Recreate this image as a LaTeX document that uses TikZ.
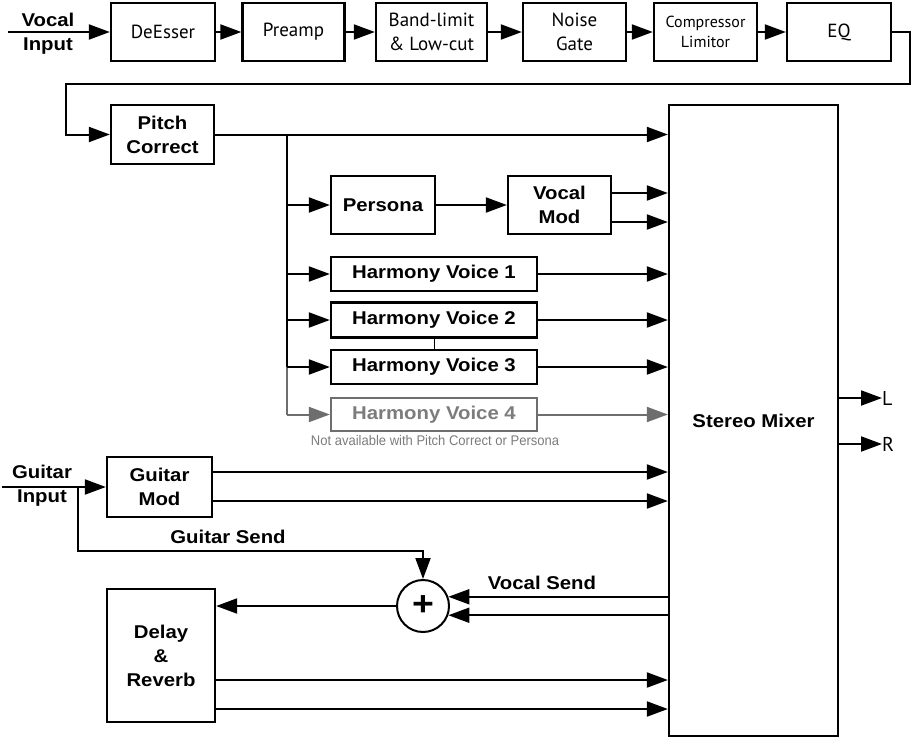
\documentclass[tikz,border=0pt]{standalone}
\usepackage{fontspec}
\setmainfont{Liberation Sans}
\newfontfamily\bfamx{Liberation Sans}[FakeStretch=1.1]
\newfontfamily\rfamx{PT Sans}
\newfontfamily\nfamx{Liberation Sans}[FakeStretch=0.93]
\usetikzlibrary{arrows.meta}
\definecolor{grayline}{HTML}{6E6E6E}
\definecolor{graytext}{HTML}{7C7C7C}
\newcommand\BoldLbl{\bfamx\bfseries\fontsize{18.5}{24}\selectfont}
\newcommand\RegLbl{\rfamx\fontsize{19}{24}\selectfont}
\newcommand\SmallLbl{\rfamx\fontsize{16}{20}\selectfont}
\tikzset{
  blk/.style={draw, line width=2.3pt, inner sep=0pt, align=center, fill=white},
  topbox/.style={blk, minimum height=58pt, font=\RegLbl},
  boldbox/.style={blk, font=\BoldLbl},
  lbl/.style={inner sep=0pt, align=center, font=\BoldLbl},
  arr/.style={line width=2pt, -{Triangle[length=21pt,width=15pt]}},
  wire/.style={line width=2pt},
  garr/.style={arr, draw=grayline, color=grayline},
}
\begin{document}
\begin{tikzpicture}[x=1pt,y=-1pt]
\useasboundingbox (0,0) rectangle (912,739);
% top row
\node[lbl] (vin) at (48,34) {Vocal\\Input};
\coordinate (vstart) at (8,32);
\node[topbox, minimum width=104pt] (de) at (163,32) {DeEsser};
\node[topbox, minimum width=102pt] (pre) at (293.5,32) {Preamp};
\node[topbox, minimum width=111pt] (band) at (431.5,32) {Band-limit\\\& Low-cut};
\node[topbox, minimum width=103pt] (ng) at (574.5,32) {Noise\\Gate};
\node[topbox, minimum width=103pt, font=\SmallLbl] (comp) at (705.5,32) {Compressor\\Limitor};
\node[topbox, minimum width=104pt] (eq) at (839,32) {EQ};
\draw[arr] (vstart) -- (de);
\draw[arr] (de) -- (pre);
\draw[arr] (pre) -- (band);
\draw[arr] (band) -- (ng);
\draw[arr] (ng) -- (comp);
\draw[arr] (comp) -- (eq);
% return path
\coordinate (ret1) at (910,84);
\coordinate (ret2) at (66,84);
\node[boldbox, minimum width=103pt, minimum height=59pt] (pc) at (162.5,134.5) {Pitch\\Correct};
\draw[arr] (eq.east) -| (ret1) -- (ret2) |- (pc);
% mixer
\node[boldbox, minimum width=169pt, minimum height=631pt] (mix) at (753.5,420.5) {Stereo Mixer};
\draw[arr] (pc) -- (pc -| mix.west);
% branch
\coordinate (br) at (287,134);
\node[boldbox, minimum width=104pt, minimum height=58pt] (per) at (383,205) {Persona};
\node[boldbox, minimum width=103pt, minimum height=58pt] (vm) at (559.5,205) {Vocal\\Mod};
\node[boldbox, minimum width=206pt, minimum height=34pt] (hv1) at (434,274) {Harmony Voice 1};
\node[boldbox, minimum width=206pt, minimum height=35pt] (hv2) at (434,320) {Harmony Voice 2};
\node[boldbox, minimum width=206pt, minimum height=34pt] (hv3) at (434,367) {Harmony Voice 3};
\node[boldbox, minimum width=206pt, minimum height=33pt, draw=grayline, text=graytext] (hv4) at (434,414.5) {Harmony Voice 4};
\node[inner sep=0pt, font=\nfamx\fontsize{14}{16}\selectfont, text=graytext] (note) at (435,440) {Not available with Pitch Correct or Persona};
\draw[wire] (br) -- (br |- hv3);
\draw[wire, draw=grayline] (br |- hv3) -- (br |- hv4);
\draw[arr] (br |- per) -- (per);
\draw[arr] (br |- hv1) -- (hv1);
\draw[arr] (br |- hv2) -- (hv2);
\draw[arr] (br |- hv3) -- (hv3);
\draw[garr] (br |- hv4) -- (hv4);
\draw[line width=0.9pt] (hv2) -- (hv3);
\draw[arr] (per) -- (vm);
\coordinate (vm1) at ([yshift=12pt]vm.east);
\coordinate (vm2) at ([yshift=-17pt]vm.east);
\draw[arr] (vm1) -- (vm1 -| mix.west);
\draw[arr] (vm2) -- (vm2 -| mix.west);
\draw[arr] (hv1) -- (hv1 -| mix.west);
\draw[arr] (hv2) -- (hv2 -| mix.west);
\draw[arr] (hv3) -- (hv3 -| mix.west);
\draw[garr] (hv4) -- (hv4 -| mix.west);
% guitar
\node[lbl] (gin) at (42,486) {Guitar\\Input};
\coordinate (gstart) at (2,487);
\node[boldbox, minimum width=105pt, minimum height=60pt] (gm) at (159.5,487) {Guitar\\Mod};
\draw[arr] (gstart) -- (gm);
\coordinate (gm1) at ([yshift=15pt]gm.east);
\coordinate (gm2) at ([yshift=-14pt]gm.east);
\draw[arr] (gm1) -- (gm1 -| mix.west);
\draw[arr] (gm2) -- (gm2 -| mix.west);
% sum
\node[draw, circle, line width=2pt, minimum size=52pt, inner sep=0pt, font=\bfamx\bfseries\fontsize{34}{34}\selectfont] (sum) at (423,606) {\raisebox{1pt}{+}};
\coordinate (gbr) at (78,487);
\coordinate (gs) at (78,551);
\draw[arr] (gbr) -- (gs) -| (sum);
\node[lbl] (gsl) at (228,537) {Guitar Send};
\draw[arr] (sum.20 -| mix.west) -- (sum.20);
\draw[arr] (sum.-20 -| mix.west) -- (sum.-20);
\node[lbl] (vsl) at (542,583) {Vocal Send};
% delay
\node[boldbox, minimum width=108pt, minimum height=133pt] (dr) at (161,655.5) {Delay\\\&\\Reverb};
\draw[arr] (sum) -- (sum -| dr.east);
\coordinate (dr1) at ([yshift=-24.5pt]dr.east);
\coordinate (dr2) at ([yshift=-53.5pt]dr.east);
\draw[arr] (dr1) -- (dr1 -| mix.west);
\draw[arr] (dr2) -- (dr2 -| mix.west);
% outputs
\node[inner sep=0pt, anchor=west, font=\rfamx\fontsize{20}{20}\selectfont] (lo) at (882,398) {L};
\node[inner sep=0pt, anchor=west, font=\rfamx\fontsize{20}{20}\selectfont] (ro) at (882,444) {R};
\draw[arr] (lo.west -| mix.east) -- (lo.west);
\draw[arr] (ro.west -| mix.east) -- (ro.west);
\end{tikzpicture}
\end{document}
